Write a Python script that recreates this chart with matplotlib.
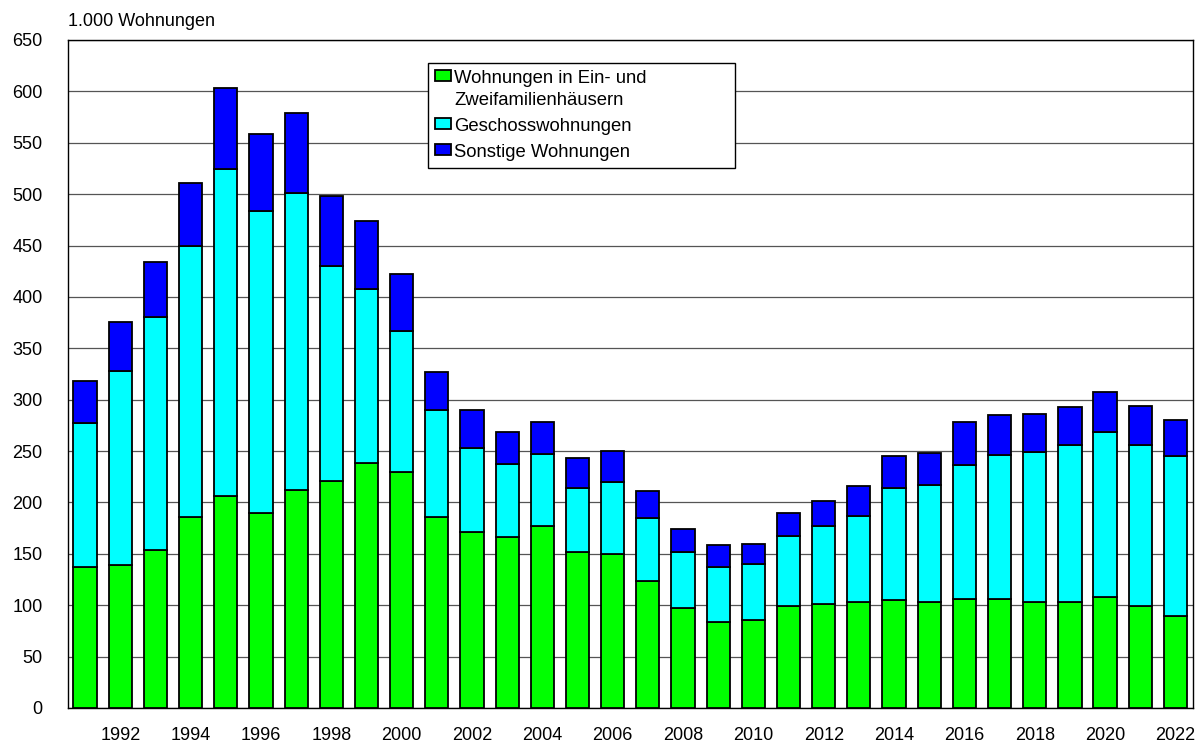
import numpy as np
import matplotlib; matplotlib.use('Agg')
import matplotlib.pyplot as plt

plt.rcParams['font.family'] = ['Liberation Sans', 'DejaVu Sans']

# ── Daten (1.000 Wohnungen) ──
years = list(range(1991, 2023))
ein_zwei = [137, 139, 154, 186, 206, 190, 212, 221, 238, 230, 186,
            171, 166, 177, 152, 150, 124, 97, 84, 86, 99, 101,
            103, 105, 103, 106, 106, 103, 103, 108, 99, 90]
geschoss = [140, 189, 226, 264, 318, 294, 289, 209, 170, 137, 104,
            82, 71, 70, 62, 70, 61, 55, 53, 54, 68, 76,
            84, 109, 114, 130, 140, 146, 153, 161, 157, 155]
sonstige = [41, 48, 54, 61, 79, 75, 78, 68, 66, 55, 37,
            37, 32, 31, 29, 30, 26, 22, 22, 20, 23, 24,
            29, 31, 31, 42, 39, 37, 37, 38, 38, 35]
labels = ['Wohnungen in Ein- und\nZweifamilienhäusern',
          'Geschosswohnungen', 'Sonstige Wohnungen']
colors = ['#00ff00', '#00ffff', '#0000ff']

fig = plt.figure(figsize=(11.95, 7.43), dpi=100)
ax = fig.add_axes([67.5 / 1195, 1 - 708 / 743, 1125.5 / 1195, 668 / 743])

x = np.array(years)
w = 0.66
b1 = np.array(ein_zwei)
b2 = b1 + np.array(geschoss)
ax.bar(x, ein_zwei, w, color=colors[0], edgecolor='black', lw=1.3,
       label=labels[0], zorder=3)
ax.bar(x, geschoss, w, bottom=b1, color=colors[1], edgecolor='black',
       lw=1.3, label=labels[1], zorder=3)
ax.bar(x, sonstige, w, bottom=b2, color=colors[2], edgecolor='black',
       lw=1.3, label=labels[2], zorder=3)

ax.set_xlim(1990.5, 2022.5)
ax.set_ylim(0, 650)
ax.set_yticks(range(0, 651, 50))
ax.set_xticks(range(1992, 2023, 2))
ax.tick_params(axis='both', length=0, labelsize=13)
ax.tick_params(axis='y', pad=18)
ax.tick_params(axis='x', pad=14)
ax.yaxis.grid(True, color='#555555', lw=0.9, zorder=0)
for s in ax.spines.values():
    s.set_color('black')
    s.set_linewidth(1.0)

ax.text(0, 1.015, '1.000 Wohnungen', transform=ax.transAxes,
        fontsize=13, ha='left', va='bottom')

leg = ax.legend(loc='upper left', bbox_to_anchor=(0.3205, 0.5, 0.2727, 0.4655),
                mode='expand', fontsize=13.3, frameon=True, fancybox=False,
                edgecolor='black', framealpha=1, borderaxespad=0,
                handlelength=0.87, handleheight=0.55, handletextpad=0.2,
                labelspacing=0.5, borderpad=0.35)
leg.get_frame().set_linewidth(1.0)
for t in leg.get_texts():
    t.set_linespacing(1.4)
# Symbol beim zweizeiligen Eintrag oben ausrichten
try:
    for col in leg._legend_handle_box.get_children():
        for item in col.get_children():
            item.align = 'top'
except AttributeError:
    pass

fig.savefig('out.png', dpi=100, facecolor='white')
plt.close(fig)
